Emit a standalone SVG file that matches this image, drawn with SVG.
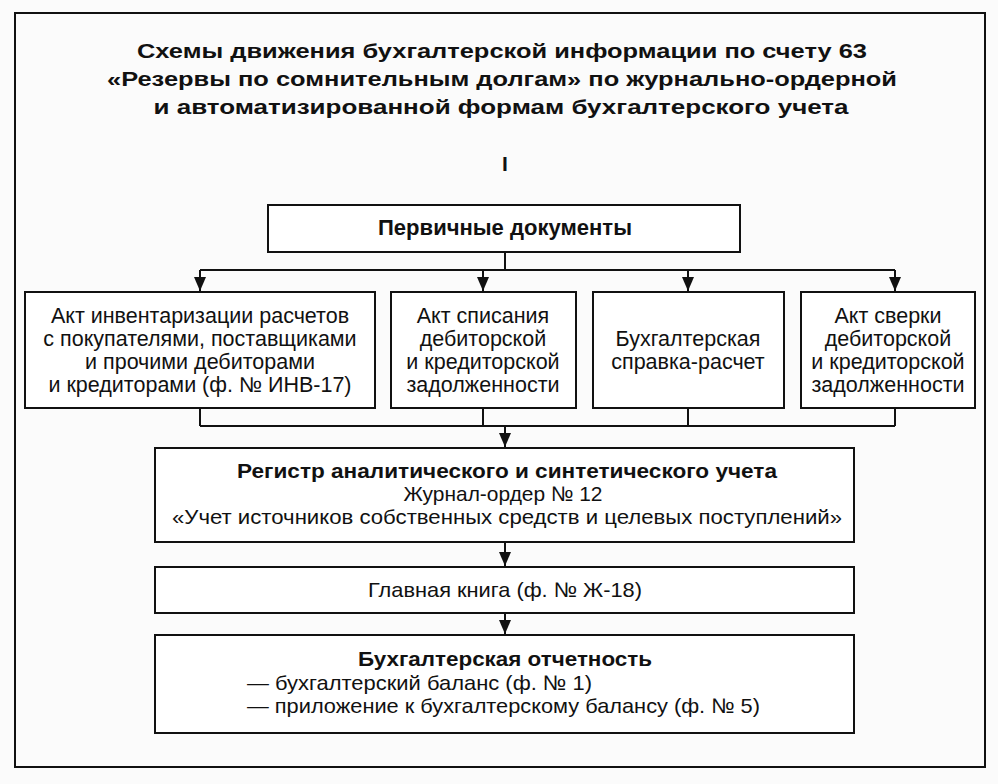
<svg xmlns="http://www.w3.org/2000/svg" width="998" height="784" viewBox="0 0 998 784">
<defs>
<style>
.box{fill:#fff;stroke:#111;stroke-width:2}
.ln{fill:none;stroke:#111;stroke-width:2}
.t{font-family:"Liberation Sans",Arial,sans-serif;font-size:21.5px;fill:#111;text-anchor:middle}
.n{font-family:"Liberation Sans Narrow","Liberation Sans",Arial,sans-serif;font-size:21px;fill:#111;text-anchor:middle}
.b{font-weight:bold}
.l{text-anchor:start}
</style>
<marker id="ah" markerWidth="14" markerHeight="12" refX="14" refY="6" orient="auto" markerUnits="userSpaceOnUse" viewBox="0 0 14 12">
<path d="M0,0 L14,6 L0,12 Z" fill="#111"/>
</marker>
</defs>
<rect x="0" y="0" width="998" height="784" fill="#fbfbfb"/>
<rect x="15" y="13" width="970" height="754" fill="#fbfbfb" stroke="#111" stroke-width="2"/>
<g id="title">
<text class="n b" x="502" y="58" font-size="25" textLength="730" lengthAdjust="spacingAndGlyphs">Схемы движения бухгалтерской информации по счету 63</text>
<text class="n b" x="502" y="86" font-size="25" textLength="790" lengthAdjust="spacingAndGlyphs">«Резервы по сомнительным долгам» по журнально-ордерной</text>
<text class="n b" x="501" y="114" font-size="25" textLength="695" lengthAdjust="spacingAndGlyphs">и автоматизированной формам бухгалтерского учета</text>
<text class="n b" x="505" y="171" font-size="25">I</text>
</g>
<g id="primary">
<rect class="box" x="268" y="205" width="472" height="47"/>
<text class="t b" x="505" y="235" font-size="20" textLength="254" lengthAdjust="spacingAndGlyphs">Первичные документы</text>
</g>
<g id="act-inv">
<rect class="box" x="25" y="292" width="350" height="116"/>
<text class="t" x="200" y="323">Акт инвентаризации расчетов</text>
<text class="t" x="200" y="346">с покупателями, поставщиками</text>
<text class="t" x="200" y="369">и прочими дебиторами</text>
<text class="t" x="200" y="392">и кредиторами (ф. № ИНВ-17)</text>
</g>
<g id="act-write-off">
<rect class="box" x="391" y="292" width="185" height="116"/>
<text class="t" x="483" y="323">Акт списания</text>
<text class="t" x="483" y="346">дебиторской</text>
<text class="t" x="483" y="369">и кредиторской</text>
<text class="t" x="483" y="392">задолженности</text>
</g>
<g id="calc">
<rect class="box" x="593" y="292" width="191" height="116"/>
<text class="t" x="688" y="346">Бухгалтерская</text>
<text class="t" x="688" y="369">справка-расчет</text>
</g>
<g id="act-recon">
<rect class="box" x="801" y="292" width="174" height="116"/>
<text class="t" x="888" y="323">Акт сверки</text>
<text class="t" x="888" y="346">дебиторской</text>
<text class="t" x="888" y="369">и кредиторской</text>
<text class="t" x="888" y="392">задолженности</text>
</g>
<g id="register">
<rect class="box" x="155" y="448" width="699" height="94"/>
<text class="n b" x="507" y="478" textLength="540" lengthAdjust="spacingAndGlyphs">Регистр аналитического и синтетического учета</text>
<text class="n" x="503" y="501" textLength="199" lengthAdjust="spacingAndGlyphs">Журнал-ордер № 12</text>
<text class="n" x="507" y="524" textLength="670" lengthAdjust="spacingAndGlyphs">«Учет источников собственных средств и целевых поступлений»</text>
</g>
<g id="ledger">
<rect class="box" x="155" y="567" width="699" height="46"/>
<text class="n" x="505" y="597" textLength="274" lengthAdjust="spacingAndGlyphs">Главная книга (ф. № Ж-18)</text>
</g>
<g id="reporting">
<rect class="box" x="155" y="635" width="699" height="98"/>
<text class="n b" x="505" y="666" textLength="294" lengthAdjust="spacingAndGlyphs">Бухгалтерская отчетность</text>
<text class="n l" x="247" y="690" textLength="345" lengthAdjust="spacingAndGlyphs">— бухгалтерский баланс (ф. № 1)</text>
<text class="n l" x="247" y="713" textLength="513" lengthAdjust="spacingAndGlyphs">— приложение к бухгалтерскому балансу (ф. № 5)</text>
</g>
<g id="connectors">
<path class="ln" d="M505,252 V270 M200,270 H895"/>
<path class="ln" d="M200,270 V291" marker-end="url(#ah)"/>
<path class="ln" d="M483,270 V291" marker-end="url(#ah)"/>
<path class="ln" d="M688,270 V291" marker-end="url(#ah)"/>
<path class="ln" d="M895,270 V291" marker-end="url(#ah)"/>
<path class="ln" d="M200,408 V426 M483,408 V426 M688,408 V426 M895,408 V426 M200,426 H895"/>
<path class="ln" d="M505,426 V447" marker-end="url(#ah)"/>
<path class="ln" d="M505,542 V566" marker-end="url(#ah)"/>
<path class="ln" d="M505,613 V634" marker-end="url(#ah)"/>
</g>
</svg>
